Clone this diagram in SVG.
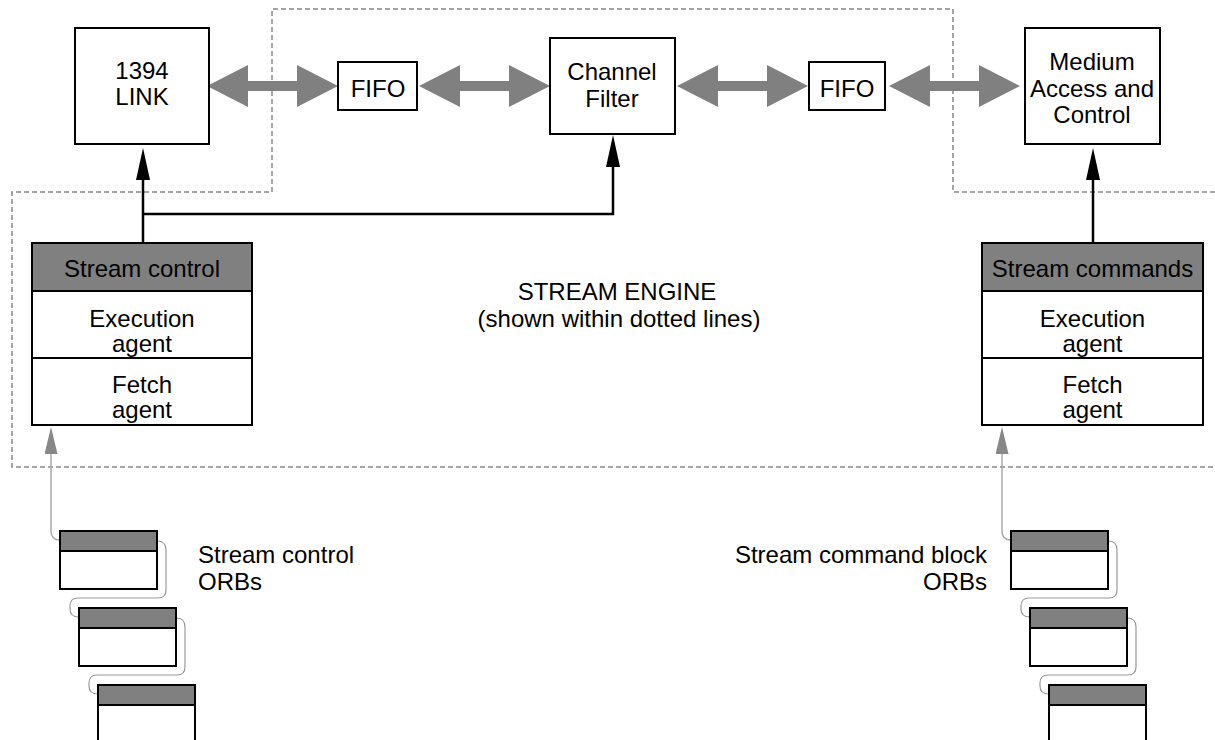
<svg xmlns="http://www.w3.org/2000/svg" width="1215" height="740" viewBox="0 0 1215 740">
<style>
  text { font-family: "Liberation Sans", Arial, sans-serif; font-size: 24px; fill: #000; }
  .c { text-anchor: middle; }
  .r { text-anchor: end; }
  .box { fill: #fff; stroke: #000; stroke-width: 2; }
  .hdr { fill: #808080; stroke: #000; stroke-width: 2; }
  .sep { stroke: #000; stroke-width: 2; fill: none; }
  .dash { fill: none; stroke: #888; stroke-width: 1.5; stroke-dasharray: 5 3; }
  .ctl { fill: none; stroke: #000; stroke-width: 2.5; }
  .feed { fill: none; stroke: #aaa; stroke-width: 1.5; }
  .link { fill: none; stroke: #999; stroke-width: 1.2; }
  .dbl { fill: #808080; }
</style>
<defs>
  <polygon id="dblarrow" points="0,0 41,-21 41,-5 90,-5 90,-21 131,0 90,21 90,5 41,5 41,21"/>
  <marker id="blk" markerUnits="userSpaceOnUse" viewBox="0 0 32 14" refX="24" refY="7" markerWidth="32" markerHeight="14" orient="auto">
    <path d="M0,0 L32,7 L0,14 z" fill="#000"/>
  </marker>
  <marker id="gry" markerUnits="userSpaceOnUse" viewBox="0 0 27 13" refX="19" refY="6.5" markerWidth="27" markerHeight="13" orient="auto">
    <path d="M0,0 L27,6.5 L0,13 z" fill="#888"/>
  </marker>
</defs>

<!-- stream engine boundary -->
<polyline class="dash" points="1215,192 953,192 953,9 272,9 272,192 12,192 12,467 1215,467"/>

<text class="c" x="617" y="300">STREAM ENGINE</text>
<text class="c" x="619" y="327">(shown within dotted lines)</text>

<g id="connectors">
  <use href="#dblarrow" class="dbl" x="207" y="86"/>
  <use href="#dblarrow" class="dbl" x="419" y="86"/>
  <use href="#dblarrow" class="dbl" x="677" y="86"/>
  <use href="#dblarrow" class="dbl" x="889" y="86"/>
  <path class="ctl" d="M143,243 V156" marker-end="url(#blk)"/>
  <path class="ctl" d="M142,214 H614"/>
  <path class="ctl" d="M613,215 V143" marker-end="url(#blk)"/>
  <path class="ctl" d="M1093,243 V156" marker-end="url(#blk)"/>
  <path class="feed" d="M60,540 Q51,540 51,531 V435" marker-end="url(#gry)"/>
  <path class="feed" d="M1011,540 Q1002,540 1002,531 V435" marker-end="url(#gry)"/>
  <path class="link" d="M157,541 Q166,541 166,550 V590 Q166,598 158,598 H78 Q70,598 70,606 V609 Q70,617 79,617"/>
  <path class="link" d="M176,618 Q185,618 185,627 V667 Q185,675 177,675 H97 Q89,675 89,683 V686 Q89,694 98,694"/>
  <path class="link" d="M1108,541 Q1117,541 1117,550 V590 Q1117,598 1109,598 H1029 Q1021,598 1021,606 V609 Q1021,617 1030,617"/>
  <path class="link" d="M1127,618 Q1136,618 1136,627 V667 Q1136,675 1128,675 H1048 Q1040,675 1040,683 V686 Q1040,694 1049,694"/>
</g>

<g id="link1394">
  <rect class="box" x="75" y="28" width="134" height="116"/>
  <text class="c" x="142" y="79">1394</text>
  <text class="c" x="142" y="105">LINK</text>
</g>
<g id="fifo1">
  <rect class="box" x="338" y="62" width="79" height="48"/>
  <text class="c" x="378" y="97">FIFO</text>
</g>
<g id="channelfilter">
  <rect class="box" x="550" y="38" width="125" height="96"/>
  <text class="c" x="612" y="80">Channel</text>
  <text class="c" x="612" y="107">Filter</text>
</g>
<g id="fifo2">
  <rect class="box" x="809" y="62" width="76" height="48"/>
  <text class="c" x="847" y="97">FIFO</text>
</g>
<g id="mac">
  <rect class="box" x="1025" y="28" width="135" height="116"/>
  <text class="c" x="1092" y="70">Medium</text>
  <text class="c" x="1092" y="97">Access and</text>
  <text class="c" x="1092" y="123">Control</text>
</g>

<g id="streamcontrol">
  <rect class="box" x="32" y="243" width="220" height="182"/>
  <rect class="hdr" x="32" y="243" width="220" height="48"/>
  <text class="c" x="142" y="277">Stream control</text>
  <text class="c" x="142" y="327">Execution</text>
  <text class="c" x="142" y="352">agent</text>
  <text class="c" x="142" y="393">Fetch</text>
  <text class="c" x="142" y="418">agent</text>
  <path class="sep" d="M32,358 H252 M32,425 H252"/>
</g>
<g id="streamcommands">
  <rect class="box" x="982" y="243" width="221" height="182"/>
  <rect class="hdr" x="982" y="243" width="221" height="48"/>
  <text class="c" x="1092.5" y="277">Stream commands</text>
  <text class="c" x="1092.5" y="327">Execution</text>
  <text class="c" x="1092.5" y="352">agent</text>
  <text class="c" x="1092.5" y="393">Fetch</text>
  <text class="c" x="1092.5" y="418">agent</text>
  <path class="sep" d="M982,358 H1203 M982,425 H1203"/>
</g>

<g id="orbs-left">
  <g id="orbL1"><rect class="box" x="60" y="531" width="97" height="58"/><rect class="hdr" x="60" y="531" width="97" height="20"/></g>
  <g id="orbL2"><rect class="box" x="79" y="608" width="97" height="58"/><rect class="hdr" x="79" y="608" width="97" height="20"/></g>
  <g id="orbL3"><rect class="box" x="98" y="685" width="97" height="70"/><rect class="hdr" x="98" y="685" width="97" height="20"/></g>
  <text x="198" y="563">Stream control</text>
  <text x="198" y="590">ORBs</text>
</g>
<g id="orbs-right">
  <g id="orbR1"><rect class="box" x="1011" y="531" width="97" height="58"/><rect class="hdr" x="1011" y="531" width="97" height="20"/></g>
  <g id="orbR2"><rect class="box" x="1030" y="608" width="97" height="58"/><rect class="hdr" x="1030" y="608" width="97" height="20"/></g>
  <g id="orbR3"><rect class="box" x="1049" y="685" width="97" height="70"/><rect class="hdr" x="1049" y="685" width="97" height="20"/></g>
  <text class="r" x="987" y="563">Stream command block</text>
  <text class="r" x="987" y="590">ORBs</text>
</g>
</svg>
